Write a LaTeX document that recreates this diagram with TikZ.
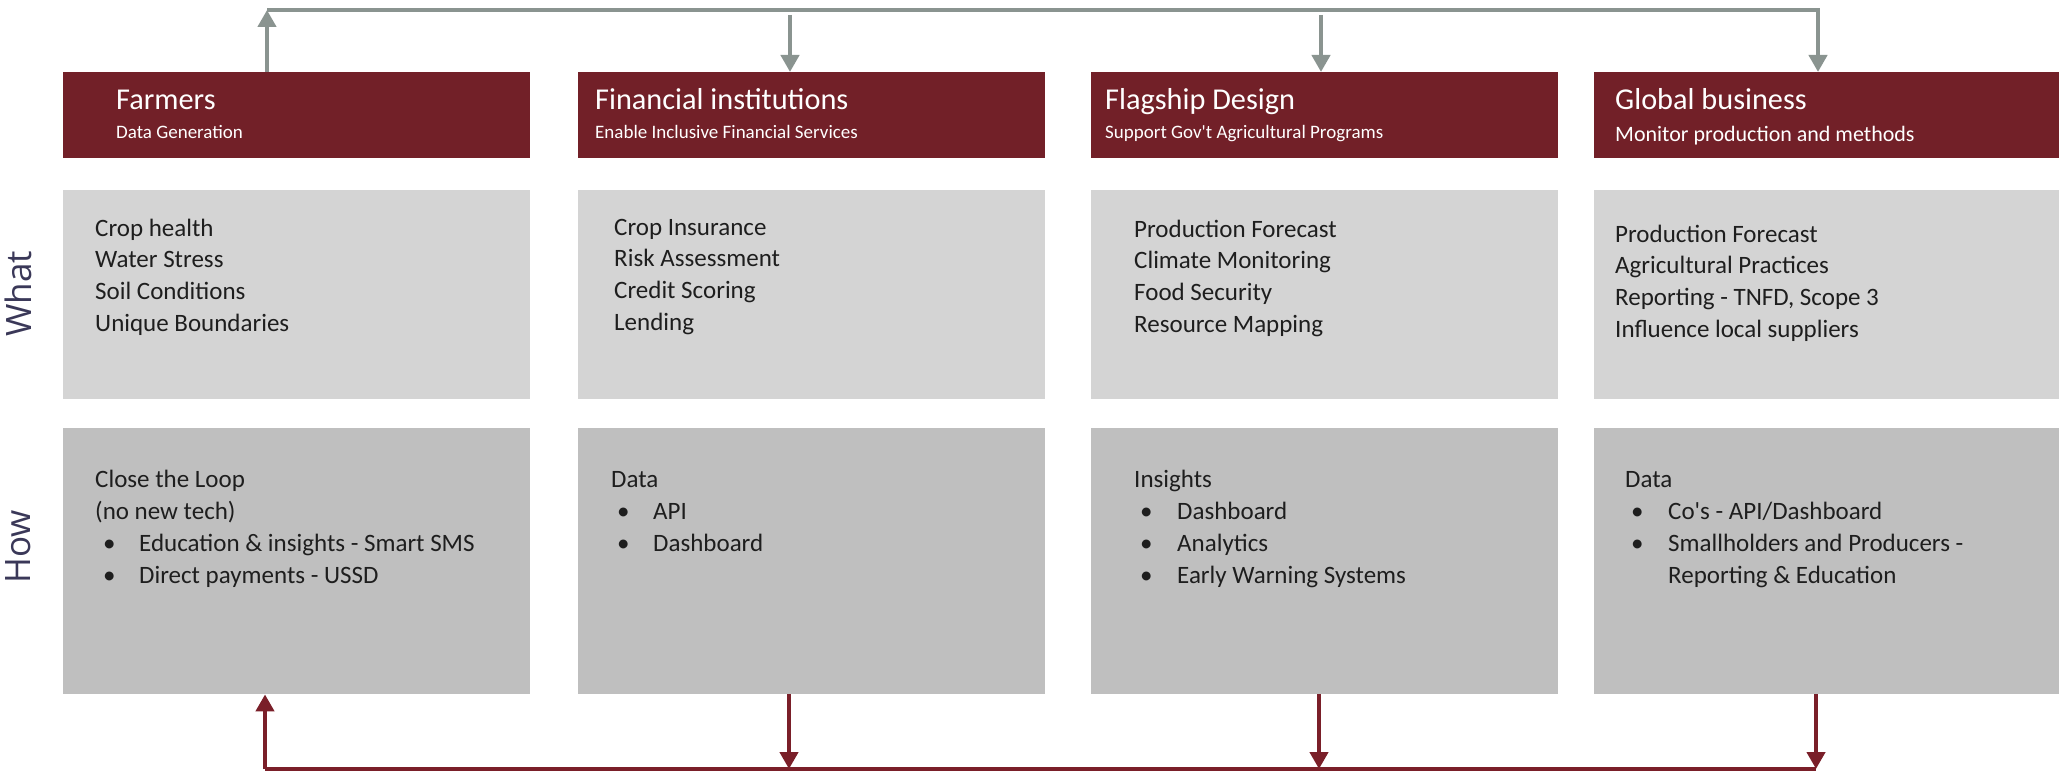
\documentclass[tikz,border=0pt]{standalone}
\usepackage{fontspec}
\setmainfont{Carlito}
\newfontfamily\labelfont{Open Sans}
\usetikzlibrary{arrows.meta}
\definecolor{hdr}{HTML}{722028}
\definecolor{redline}{HTML}{7A1F29}
\definecolor{grayline}{HTML}{8A9490}
\definecolor{whatbg}{HTML}{D4D4D4}
\definecolor{howbg}{HTML}{BFBFBF}
\definecolor{lbl}{HTML}{3A3858}
\definecolor{txt}{HTML}{1E1E1E}
\begin{document}
\begin{tikzpicture}[x=1pt,y=1pt,
  hbox/.style={fill=hdr, draw=none, anchor=north west, inner sep=0, minimum height=86pt, minimum width=467pt},
  wbox/.style={fill=whatbg, draw=none, anchor=north west, inner sep=0, minimum height=209pt, minimum width=467pt},
  obox/.style={fill=howbg, draw=none, anchor=north west, inner sep=0, minimum height=266pt, minimum width=467pt},
  title/.style={anchor=base west, inner sep=0, text=white, font=\fontsize{30.3}{36}\selectfont},
  sub/.style={anchor=base west, inner sep=0, text=white, font=\fontsize{19}{23}\selectfont},
  body/.style={anchor=base west, inner sep=0, text=txt, font=\fontsize{25}{30}\selectfont},
  side/.style={rotate=90, inner sep=0, text=lbl, font=\labelfont\fontsize{35}{40}\selectfont},
  gline/.style={draw=grayline, line width=4.5pt},
  rline/.style={draw=redline, line width=4.5pt},
  tip/.style={-{Triangle[width=18pt,length=17pt]}}
]
\useasboundingbox (0,0) rectangle (2059,-773);

% side labels
\node[side] (what) at (18,-294) {What};
\node[side] (how) at (18,-547) {How};

% header boxes
\node[hbox] (h1) at (63,-72) {};
\node[hbox] (h2) at (578,-72) {};
\node[hbox] (h3) at (1091,-72) {};
\node[hbox, minimum width=465pt] (h4) at (1594,-72) {};

% what boxes
\node[wbox] (w1) at (63,-190) {};
\node[wbox] (w2) at (578,-190) {};
\node[wbox] (w3) at (1091,-190) {};
\node[wbox, minimum width=465pt] (w4) at (1594,-190) {};

% how boxes
\node[obox] (o1) at (63,-428) {};
\node[obox] (o2) at (578,-428) {};
\node[obox] (o3) at (1091,-428) {};
\node[obox, minimum width=465pt] (o4) at (1594,-428) {};

% header texts
\node[title] (h1t) at (116,-110) {Farmers};
\node[sub] (h1s) at (116,-139) {Data Generation};
\node[title] (h2t) at (595,-110) {Financial institutions};
\node[sub] (h2s) at (595,-139) {Enable Inclusive Financial Services};
\node[title] (h3t) at (1105,-110) {Flagship Design};
\node[sub] (h3s) at (1105,-139) {Support Gov\textquotesingle t Agricultural Programs};
\node[title] (h4t) at (1615,-110) {Global business};
\node[sub, font=\fontsize{22}{26}\selectfont] (h4s) at (1615,-142) {Monitor production and methods};

% what texts
\foreach \t [count=\i from 0] in {Crop health, Water Stress, Soil Conditions, Unique Boundaries}
  \node[body] (w1l\i) at (95,{-236-31.7*\i}) {\t};
\foreach \t [count=\i from 0] in {Crop Insurance, Risk Assessment, Credit Scoring, Lending}
  \node[body] (w2l\i) at (614,{-235-31.7*\i}) {\t};
\foreach \t [count=\i from 0] in {Production Forecast, Climate Monitoring, Food Security, Resource Mapping}
  \node[body] (w3l\i) at (1134,{-237-31.7*\i}) {\t};
\foreach \t [count=\i from 0] in {Production Forecast, Agricultural Practices, {Reporting - TNFD, Scope 3}, Influence local suppliers}
  \node[body] (w4l\i) at (1615,{-242-31.7*\i}) {\t};

% how texts col 1
\node[body] (o1l0) at (95,-487) {Close the Loop};
\node[body] (o1l1) at (95,-519) {(no new tech)};
\node[body] (o1b2) at (103,-551) {\textbullet};
\node[body] (o1l2) at (139,-551) {Education \& insights - Smart SMS};
\node[body] (o1b3) at (103,-583) {\textbullet};
\node[body] (o1l3) at (139,-583) {Direct payments - USSD};

% how texts col 2
\node[body] (o2l0) at (611,-487) {Data};
\node[body] (o2b1) at (617,-519) {\textbullet};
\node[body] (o2l1) at (653,-519) {API};
\node[body] (o2b2) at (617,-551) {\textbullet};
\node[body] (o2l2) at (653,-551) {Dashboard};

% how texts col 3
\node[body] (o3l0) at (1134,-487) {Insights};
\node[body] (o3b1) at (1140,-519) {\textbullet};
\node[body] (o3l1) at (1177,-519) {Dashboard};
\node[body] (o3b2) at (1140,-551) {\textbullet};
\node[body] (o3l2) at (1177,-551) {Analytics};
\node[body] (o3b3) at (1140,-583) {\textbullet};
\node[body] (o3l3) at (1177,-583) {Early Warning Systems};

% how texts col 4
\node[body] (o4l0) at (1625,-487) {Data};
\node[body] (o4b1) at (1631,-519) {\textbullet};
\node[body] (o4l1) at (1668,-519) {Co\textquotesingle s - API/Dashboard};
\node[body] (o4b2) at (1631,-551) {\textbullet};
\node[body] (o4l2) at (1668,-551) {Smallholders and Producers -};
\node[body] (o4l3) at (1668,-583) {Reporting \& Education};

% top connectors
\coordinate (tl) at (267,-10);
\coordinate (tr) at (1818,-10);
\coordinate (t2) at (790,-15);
\coordinate (t3) at (1321,-15);
\draw[gline, tip] (h1.north -| tl) -- (tl);
\draw[gline, tip] (tl) -- (tr) -- (h4.north -| tr);
\draw[gline, tip] (t2) -- (h2.north -| t2);
\draw[gline, tip] (t3) -- (h3.north -| t3);

% bottom connectors
\coordinate (bl) at (265,-769);
\coordinate (br) at (1816,-769);
\coordinate (b2) at (789,-769);
\coordinate (b3) at (1319,-769);
\draw[rline] (bl) -- (br);
\draw[rline, tip] (bl) -- (o1.south -| bl);
\draw[rline, tip] (o2.south -| b2) -- (b2);
\draw[rline, tip] (o3.south -| b3) -- (b3);
\draw[rline, tip] (o4.south -| br) -- (br);
\end{tikzpicture}
\end{document}
